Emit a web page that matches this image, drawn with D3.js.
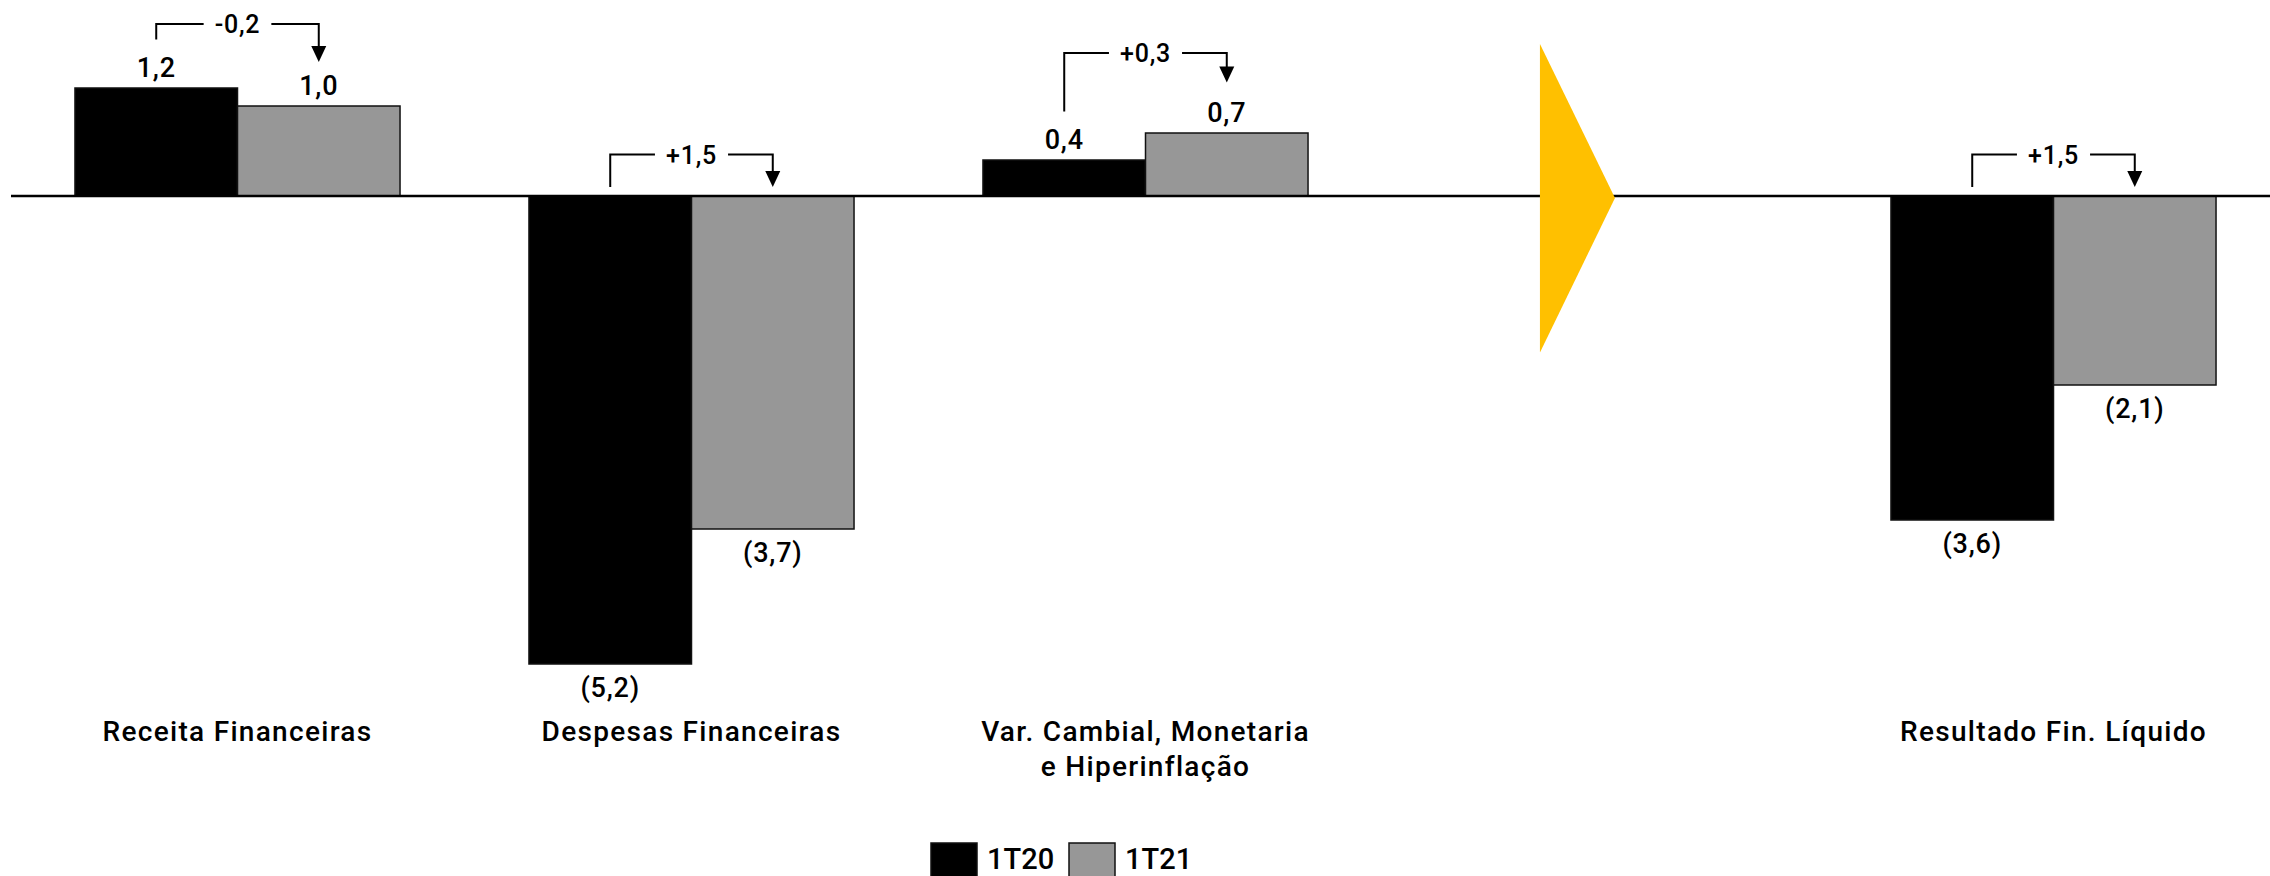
<!DOCTYPE html>
<html><head><meta charset="utf-8">
<script src="https://cdn.jsdelivr.net/npm/d3@7"></script>
<style>
html,body{margin:0;padding:0;background:#fff;}
svg{display:block;font-family:Roboto, "DejaVu Sans", sans-serif;}
</style></head>
<body><svg id="c" width="2270" height="876"></svg>
<script>
// ---- data ----
const categories = ["Receita Financeiras", "Despesas Financeiras", "Var. Cambial, Monetaria\ne Hiperinflação", "", "Resultado Fin. Líquido"];
const series = ["1T20", "1T21"];
const values1T20 = [1.2, -5.2, 0.4, null, -3.6];
const values1T21 = [1.0, -3.7, 0.7, null, -2.1];
const deltaLabels = ["-0,2", "+1,5", "+0,3", null, "+1,5"];
// bracket geometry in value units: horizontal level, left end, arrow tip
const bracketLevel = [1.91, 0.46, 1.59, null, 0.46];
const bracketLeftEnd = [1.74, 0.10, 0.94, null, 0.10];
const bracketTip = [1.49, 0.10, 1.26, null, 0.10];
const arrowSlot = 3; // empty slot holding the yellow arrow
const arrowTop = 1.69, arrowBottom = -1.74;

const colors = {"1T20": "#000000", "1T21": "#979797"};
const fmt = v => { const s = Math.abs(v).toFixed(1).replace(".", ","); return v < 0 ? "(" + s + ")" : s; };

const svg = d3.select("#c");
const W = 2270;
const slots = d3.range(categories.length);
const x = d3.scaleBand().domain(slots).range([10.5, 2280.5]).paddingInner(0.284).paddingOuter(0.142);
const xs = d3.scaleBand().domain(series).range([0, x.bandwidth()]);
const y = d3.scaleLinear().domain([-6, 2]).range([736, 16]);

const rows = [];
slots.forEach(i => {
  if (values1T20[i] == null) return;
  rows.push({i, s: "1T20", v: values1T20[i]});
  rows.push({i, s: "1T21", v: values1T21[i]});
});

// bars
svg.append("g").selectAll("rect").data(rows).join("rect")
  .attr("x", d => x(d.i) + xs(d.s))
  .attr("width", xs.bandwidth())
  .attr("y", d => y(Math.max(0, d.v)))
  .attr("height", d => Math.abs(y(d.v) - y(0)))
  .attr("fill", d => colors[d.s])
  .attr("stroke", "#111").attr("stroke-width", 1.5);

// baseline
svg.append("line").attr("x1", 11).attr("x2", W).attr("y1", y(0)).attr("y2", y(0))
  .attr("stroke", "#000").attr("stroke-width", 2.5);

// yellow arrow
const ax = x(arrowSlot) + 103;
svg.append("path")
  .attr("d", d3.line()([[ax, y(arrowTop)], [ax + 75, y(0) + 2], [ax, y(arrowBottom)]]) + "Z")
  .attr("fill", "#FFC000");

// value labels
svg.append("g").selectAll("text").data(rows).join("text")
  .attr("x", d => x(d.i) + xs(d.s) + xs.bandwidth() / 2)
  .attr("y", d => d.v >= 0 ? y(d.v) - 11 : y(d.v) + 33)
  .attr("text-anchor", "middle")
  .attr("font-size", 27).attr("letter-spacing", 0.8)
  .attr("font-weight", 500)
  .attr("fill", "#000")
  .text(d => fmt(d.v));

// delta brackets
const bg = svg.append("g");
slots.forEach(i => {
  if (deltaLabels[i] == null) return;
  const xl = x(i) + xs("1T20") + xs.bandwidth() / 2;
  const xr = x(i) + xs("1T21") + xs.bandwidth() / 2;
  const xc = (xl + xr) / 2;
  const yl = y(bracketLevel[i]);
  const t = bg.append("text").attr("x", xc).attr("y", yl).attr("dy", "0.36em")
    .attr("text-anchor", "middle").attr("font-size", 25).attr("letter-spacing", 0.8)
    .attr("font-weight", 500).text(deltaLabels[i]);
  const tw = t.node().getComputedTextLength();
  const gap = tw / 2 + 11;
  bg.append("path").attr("fill", "none").attr("stroke", "#000").attr("stroke-width", 2)
    .attr("d", d3.line()([[xl, y(bracketLeftEnd[i])], [xl, yl], [xc - gap, yl]]));
  const tipY = y(bracketTip[i]);
  bg.append("path").attr("fill", "none").attr("stroke", "#000").attr("stroke-width", 2)
    .attr("d", d3.line()([[xc + gap, yl], [xr, yl], [xr, tipY - 14]]));
  bg.append("path").attr("fill", "#000")
    .attr("d", d3.line()([[xr - 7.5, tipY - 16], [xr + 7.5, tipY - 16], [xr, tipY]]) + "Z");
});

// category labels
const cg = svg.append("g");
slots.forEach(i => {
  if (!categories[i]) return;
  const t = cg.append("text").attr("x", x(i) + x.bandwidth() / 2).attr("y", 741)
    .attr("text-anchor", "middle").attr("font-size", 28).attr("letter-spacing", 1.3)
    .attr("font-weight", 500).attr("fill", "#000");
  categories[i].split("\n").forEach((ln, k) => {
    t.append("tspan").attr("x", x(i) + x.bandwidth() / 2).attr("dy", k ? 35 : 0).text(ln);
  });
});

// legend
const lg = svg.append("g").attr("transform", "translate(931,843)");
const legX = d3.scalePoint().domain(series).range([0, 138]);
series.forEach(s => {
  lg.append("rect").attr("x", legX(s)).attr("y", 0).attr("width", 46).attr("height", 46)
    .attr("fill", colors[s]).attr("stroke", "#111").attr("stroke-width", 1.5);
  lg.append("text").attr("x", legX(s) + 56).attr("y", 26).attr("font-size", 29)
    .attr("letter-spacing", 0).attr("font-weight", 500).text(s);
});
</script></body></html>
